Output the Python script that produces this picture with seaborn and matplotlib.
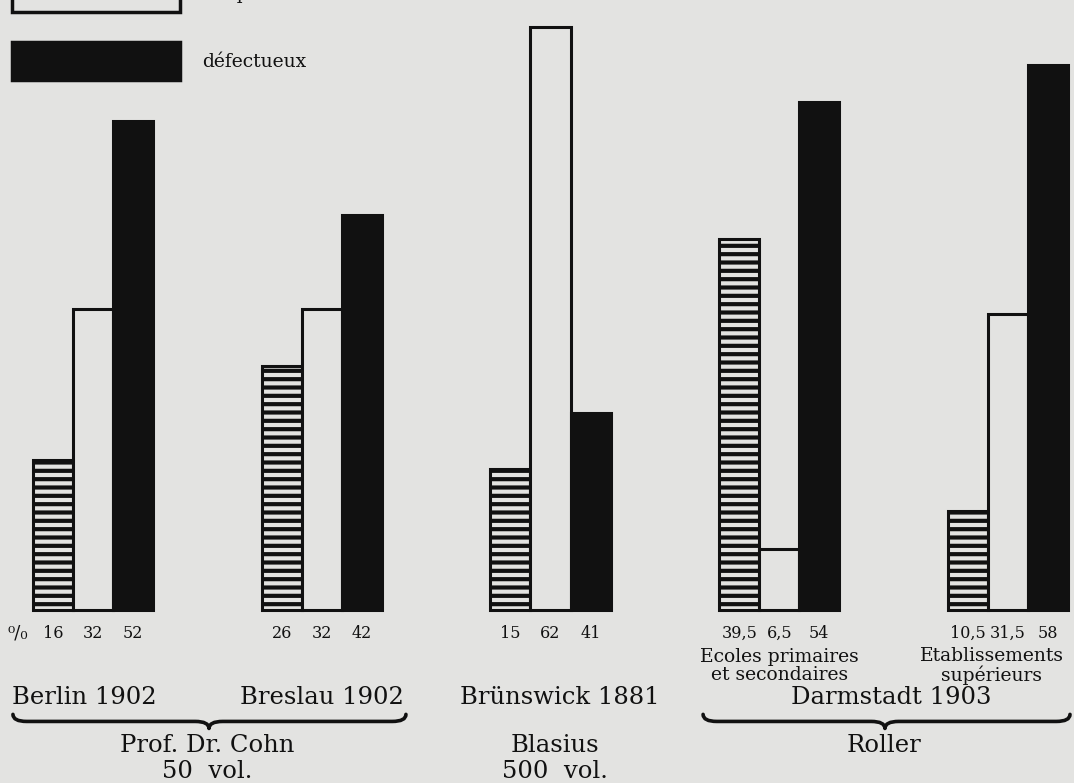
import numpy as np
import pandas as pd
import matplotlib
matplotlib.use('Agg')
import matplotlib.pyplot as plt
from matplotlib.patches import Patch, PathPatch
from matplotlib.path import Path
import seaborn as sns

# Data (percentages)
groups = ['Berlin 1902', 'Breslau 1902', 'Brünswick 1881',
          'Darmstadt 1903 primaires', 'Darmstadt 1903 supérieurs']
categories = ['satisfaisant', 'irréprochable', 'défectueux']
satisfaisant = [16, 26, 15, 39.5, 10.5]
irreprochable = [32, 32, 62, 6.5, 31.5]
# bar heights as drawn (the Brünswick black bar is printed at ~21 although labelled 41)
defectueux = [52, 42, 21, 54, 58]
value_labels = [['16', '26', '15', '39,5', '10,5'],
                ['32', '32', '62', '6,5', '31,5'],
                ['52', '42', '41', '54', '58']]

df = pd.DataFrame({
    'groupe': groups * 3,
    'qualite': [c for c in categories for _ in groups],
    'pct': satisfaisant + irreprochable + defectueux,
})

paper = '#e3e3e1'
ink = '#111111'

sns.set_style('white')
plt.rcParams['font.family'] = ['DejaVu Serif', 'DejaVu Sans']
plt.rcParams['hatch.linewidth'] = 3.0
plt.rcParams['hatch.color'] = ink

fig = plt.figure(figsize=(10.74, 7.83), dpi=100, facecolor=paper)
ax = fig.add_axes([0, 0, 1, 1])
ax.set_facecolor(paper)

sns.barplot(data=df, x='groupe', y='pct', hue='qualite', order=groups,
            hue_order=categories,
            palette={'satisfaisant': paper, 'irréprochable': paper, 'défectueux': ink},
            width=0.525, gap=0, saturation=1, edgecolor=ink, linewidth=2.2,
            legend=False, ax=ax)

for bar in ax.containers[0]:
    bar.set_hatch('--')

ax.set_xlim(-0.4066, 4.2885)
ax.set_ylim(-18.4, 64.9)
ax.set_axis_off()

# value labels under each bar
for cont, labels in zip(ax.containers, value_labels):
    for bar, txt in zip(cont, labels):
        ax.text(bar.get_x() + bar.get_width() / 2, -2.5, txt, ha='center', va='center',
                fontsize=11.5, color=ink)

ax.text(-0.33, -2.5, '⁰/₀', ha='center', va='center', fontsize=13, color=ink)

ax.text(3.0, -5.95, 'Ecoles primaires\net secondaires', ha='center', va='center',
        fontsize=13.5, color=ink, linespacing=1.05)
ax.text(3.93, -5.95, 'Etablissements\nsupérieurs', ha='center', va='center',
        fontsize=13.5, color=ink, linespacing=1.05)

big = 17.5
ax.text(-0.355, -9.3, 'Berlin 1902', ha='left', va='center', fontsize=big, color=ink)
ax.text(1.36, -9.3, 'Breslau 1902', ha='right', va='center', fontsize=big, color=ink)
ax.text(2.04, -9.3, 'Brünswick 1881', ha='center', va='center', fontsize=big, color=ink)
ax.text(3.49, -9.3, 'Darmstadt 1903', ha='center', va='center', fontsize=big, color=ink)

ax.text(0.5, -14.4, 'Prof. Dr. Cohn', ha='center', va='center', fontsize=big, color=ink)
ax.text(0.5, -17.2, '50  vol.', ha='center', va='center', fontsize=big, color=ink)
ax.text(2.02, -14.4, 'Blasius', ha='center', va='center', fontsize=big, color=ink)
ax.text(2.02, -17.2, '500  vol.', ha='center', va='center', fontsize=big, color=ink)
ax.text(3.46, -14.4, 'Roller', ha='center', va='center', fontsize=big, color=ink)


def brace(x0, x1, xt, ytop, ymid, ytip):
    c = 0.06
    verts = [(x0, ytop), (x0, ymid), (x0 + c, ymid), (x0 + c, ymid),
             (xt - c, ymid), (xt, ymid), (xt, ytip),
             (xt, ymid), (xt + c, ymid), (xt + c, ymid),
             (x1 - c, ymid), (x1, ymid), (x1, ytop)]
    codes = [Path.MOVETO, Path.CURVE3, Path.CURVE3, Path.LINETO,
             Path.LINETO, Path.CURVE3, Path.CURVE3,
             Path.CURVE3, Path.CURVE3, Path.LINETO,
             Path.LINETO, Path.CURVE3, Path.CURVE3]
    ax.add_patch(PathPatch(Path(verts, codes), fill=False, lw=2.6, color=ink,
                           capstyle='round', joinstyle='round'))


brace(-0.35, 1.368, 0.507, -11.1, -11.85, -12.6)
brace(2.667, 4.271, 3.462, -11.1, -11.85, -12.6)

# legend (top entry partly cut off by the page edge)
handles = [Patch(facecolor=paper, edgecolor=ink, linewidth=2.5, label='irréprochable'),
           Patch(facecolor=ink, edgecolor=ink, linewidth=2.5, label='défectueux')]
fs = 13.5
fpx = fs * 100 / 72
hh = (38 / fpx - 0.245) / 0.65
fig.legend(handles=handles, loc='lower left', bbox_to_anchor=(12 / 1074, 1 - 80 / 783),
           bbox_transform=fig.transFigure, frameon=False, fontsize=fs, borderpad=0,
           borderaxespad=0, handlelength=168 / fpx, handleheight=hh,
           labelspacing=30 / fpx, handletextpad=22 / fpx, labelcolor=ink)

fig.savefig('out.png', dpi=100, facecolor=paper)
